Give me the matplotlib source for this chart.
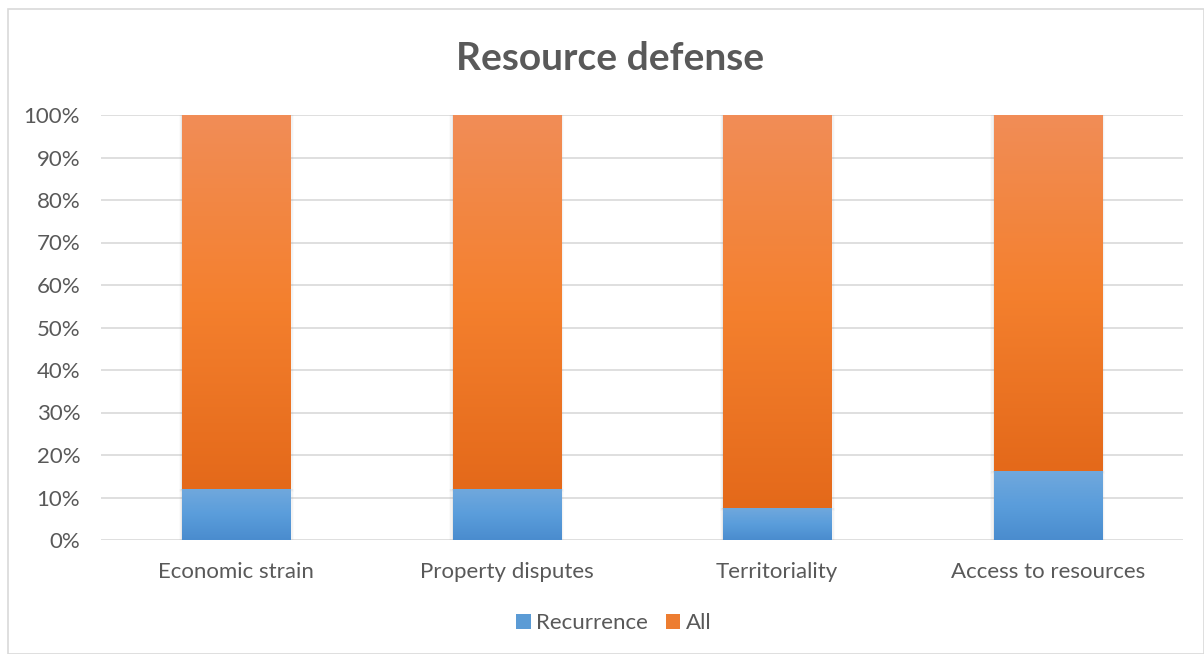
import numpy as np
import matplotlib
matplotlib.use("Agg")
import matplotlib.pyplot as plt
from matplotlib.colors import LinearSegmentedColormap
from matplotlib.patches import Rectangle, Patch
from matplotlib.ticker import PercentFormatter

categories = ["Economic strain", "Property disputes", "Territoriality", "Access to resources"]
recurrence = [0.12, 0.12, 0.075, 0.162]
all_vals = [0.88, 0.88, 0.925, 0.838]
yticks = [0, 0.1, 0.2, 0.3, 0.4, 0.5, 0.6, 0.7, 0.8, 0.9, 1.0]

plt.rcParams['font.family'] = ['Lato', 'DejaVu Sans']
text_color = "#595959"

fig = plt.figure(figsize=(12.04, 6.54), dpi=100)
fig.patches.append(Rectangle((8/1204, 0), 1 - 8/1204, 1 - 9/654, transform=fig.transFigure,
                             fill=False, edgecolor="#d9d9d9", linewidth=1.2, zorder=0))
ax = fig.add_axes([101/1204, 1 - 540/654, 1082/1204, 425/654])

x = np.arange(len(categories))
width = 0.40
b1 = ax.bar(x, recurrence, width, color="#5b9bd5", label="Recurrence", zorder=3)
b2 = ax.bar(x, all_vals, width, bottom=recurrence, color="#ed7d31", label="All", zorder=3)

blue_cmap = LinearSegmentedColormap.from_list("b", ["#4a8cce", "#5a9ddb", "#70a8dd"])
orange_cmap = LinearSegmentedColormap.from_list("o", ["#e4691a", "#f4802e", "#f18d57"])
grad = np.linspace(0, 1, 256).reshape(-1, 1)
for bars, cmap in ((b1, blue_cmap), (b2, orange_cmap)):
    for p in bars:
        x0, y0 = p.get_x(), p.get_y()
        w, h = p.get_width(), p.get_height()
        for k, a in enumerate([0.10, 0.06, 0.03]):
            ax.add_patch(Rectangle((x0 - 0.004 * (k + 1), y0 - 0.002 * (k + 1)),
                                   w + 0.008 * (k + 1), h + 0.002 * (k + 1),
                                   facecolor="#808080", alpha=a, edgecolor="none", zorder=2))
        im = ax.imshow(grad, extent=(x0, x0 + w, y0, y0 + h), origin="lower",
                       cmap=cmap, aspect="auto", zorder=3.5)
        im.set_clip_path(p)

ax.set_xlim(-0.5, len(categories) - 0.5)
ax.set_ylim(0, 1.0)
ax.set_yticks(yticks)
ax.yaxis.set_major_formatter(PercentFormatter(1.0, decimals=0))
ax.set_xticks(x)
ax.set_xticklabels(categories)
ax.tick_params(axis="both", length=0, labelsize=16, colors=text_color)
ax.tick_params(axis="x", pad=16)
ax.tick_params(axis="y", pad=15)
ax.grid(axis="y", color="#d9d9d9", linewidth=1.2, zorder=0)
ax.set_axisbelow(True)
for s in ax.spines.values():
    s.set_visible(False)

fig.text(610/1204, 1 - 58/654, "Resource defense", ha="center", va="center",
         fontsize=28, fontweight="bold", color=text_color)

handles = [Patch(facecolor="#5b9bd5", label="Recurrence"), Patch(facecolor="#ed7d31", label="All")]
fig.legend(handles=handles, loc="center", bbox_to_anchor=(614/1204, 1 - 623/654), ncol=2,
           frameon=False, fontsize=16, labelcolor=text_color, handlelength=0.65, handleheight=0.65,
           handletextpad=0.25, columnspacing=0.8)

fig.savefig("out.png", dpi=100)
